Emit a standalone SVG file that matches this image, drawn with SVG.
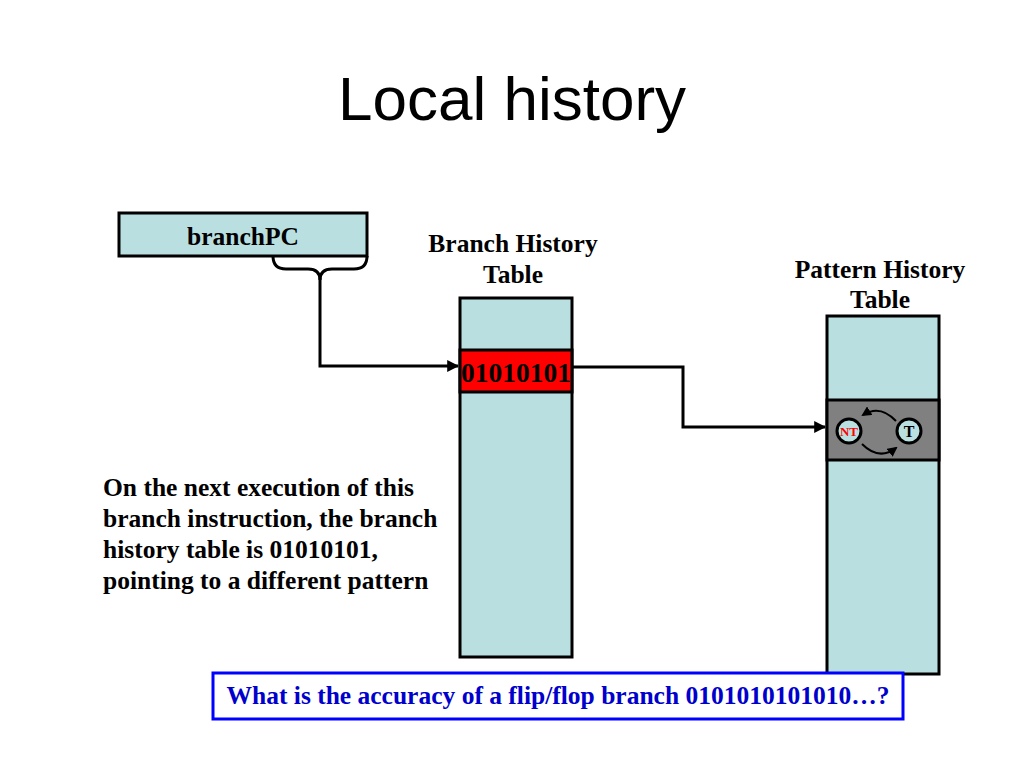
<svg xmlns="http://www.w3.org/2000/svg" width="1024" height="768" viewBox="0 0 1024 768">
<defs>
<style>
.lbl{font-family:"Liberation Serif","Times New Roman",serif;font-weight:bold;font-size:25.5px;fill:#000}
.tbl{fill:#b9dfe1;stroke:#000;stroke-width:3}
.wire{fill:none;stroke:#000;stroke-width:3}
</style>
<marker id="arr" viewBox="0 0 10 10" refX="9" refY="5" markerWidth="4" markerHeight="4" orient="auto" markerUnits="strokeWidth">
<path d="M0,0 L10,5 L0,10 z" fill="#000"/>
</marker>
<marker id="arrs" viewBox="0 0 10 10" refX="8" refY="5" markerWidth="5" markerHeight="5" orient="auto" markerUnits="strokeWidth">
<path d="M0,0 L10,5 L0,10 z" fill="#000"/>
</marker>
</defs>
<rect width="1024" height="768" fill="#fff"/>
<text x="512" y="120" text-anchor="middle" font-family="'Liberation Sans',Arial,sans-serif" font-size="62" fill="#000">Local history</text>

<g id="branchPC">
<rect x="119" y="213" width="248" height="43" class="tbl"/>
<text x="243" y="245" text-anchor="middle" class="lbl">branchPC</text>
</g>

<g id="bht">
<text x="513" y="252" text-anchor="middle" class="lbl">Branch History</text>
<text x="513" y="283" text-anchor="middle" class="lbl">Table</text>
<rect x="460" y="298" width="112" height="359" class="tbl"/>
<rect x="460" y="350" width="112" height="42" fill="#ff0000" stroke="#000" stroke-width="3"/>
<text x="516" y="382" text-anchor="middle" class="lbl" style="font-size:27.5px">01010101</text>
</g>

<g id="pht">
<text x="880" y="278" text-anchor="middle" class="lbl">Pattern History</text>
<text x="880" y="308" text-anchor="middle" class="lbl">Table</text>
<rect x="827" y="316" width="112" height="358" class="tbl"/>
<rect x="827" y="400" width="112" height="60" fill="#808080" stroke="#000" stroke-width="3"/>
<circle cx="849" cy="431" r="12" fill="#b9dfe1" stroke="#000" stroke-width="3"/>
<text x="849" y="436" text-anchor="middle" font-family="'Liberation Serif',serif" font-weight="bold" font-size="13" fill="#ff0000">NT</text>
<circle cx="909" cy="431" r="12" fill="#b9dfe1" stroke="#000" stroke-width="3"/>
<text x="909" y="437" text-anchor="middle" font-family="'Liberation Serif',serif" font-weight="bold" font-size="16" fill="#000">T</text>
<path d="M896,421 Q880,404 863,415" fill="none" stroke="#000" stroke-width="2" marker-end="url(#arrs)"/>
<path d="M862,444 Q879,461 896,448" fill="none" stroke="#000" stroke-width="2" marker-end="url(#arrs)"/>
</g>

<g id="connectors">
<path d="M273,256 Q273,269 286,269 L308,269 Q320,269 320,280 Q320,269 332,269 L354,269 Q367,269 367,256" class="wire"/>
<path d="M320,278 L320,366 L458,366" class="wire" marker-end="url(#arr)"/>
<path d="M572,367 L683,367 L683,427 L825,427" class="wire" marker-end="url(#arr)"/>
</g>

<g id="note">
<text class="lbl" x="103" y="496">On the next execution of this</text>
<text class="lbl" x="103" y="527">branch instruction, the branch</text>
<text class="lbl" x="103" y="558">history table is 01010101,</text>
<text class="lbl" x="103" y="589">pointing to a different pattern</text>
</g>

<g id="question">
<rect x="213" y="673" width="690" height="46" fill="#fff" stroke="#0000ff" stroke-width="3"/>
<text x="558" y="704" text-anchor="middle" class="lbl" style="fill:#0000cc">What is the accuracy of a flip/flop branch 0101010101010…?</text>
</g>
</svg>
